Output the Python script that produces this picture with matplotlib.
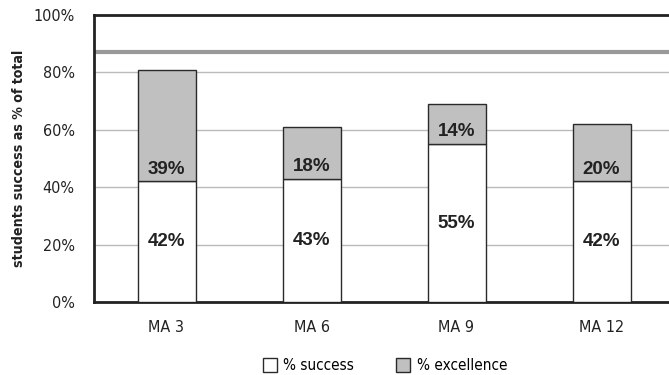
import matplotlib
matplotlib.use("Agg")
import matplotlib.pyplot as plt
from matplotlib import font_manager
from matplotlib.lines import Line2D
from matplotlib.ticker import FuncFormatter
import numpy as np

# data
categories = ["MA 3", "MA 6", "MA 9", "MA 12"]
success = [42, 43, 55, 42]
excellence = [39, 18, 14, 20]
target_line = 87


# pick a narrow sans for axis text, falling back to condensed DejaVu
def narrow_font(weight="normal"):
    try:
        font_manager.findfont(font_manager.FontProperties(family="Liberation Sans Narrow"),
                              fallback_to_default=False)
        return font_manager.FontProperties(family="Liberation Sans Narrow", weight=weight)
    except Exception:
        return font_manager.FontProperties(family="DejaVu Sans", stretch="condensed",
                                           weight=weight)


tick_fp = narrow_font()
tick_fp.set_size(11.5)
ylab_fp = narrow_font("bold")
ylab_fp.set_size(10.2)
leg_fp = narrow_font()
leg_fp.set_size(11)

fig = plt.figure(figsize=(6.69, 3.75), dpi=100)
ax = fig.add_axes([94 / 669, 73 / 375, 580 / 669, 287 / 375])

x = np.arange(len(categories))
w = 0.40
edge = "#2a2a2a"

ax.bar(x, success, w, color="white", edgecolor=edge, linewidth=1.0, zorder=3)
ax.bar(x, excellence, w, bottom=success, color="#c0c0c0", edgecolor=edge,
       linewidth=1.0, zorder=3)

# value labels
for xi, s, e in zip(x, success, excellence):
    ax.text(xi, s / 2, f"{s}%", ha="center", va="center", fontsize=13.5,
            fontweight="bold", family="Liberation Sans", color="#222222", zorder=4)
    ax.text(xi, s + 4.3, f"{e}%", ha="center", va="center", fontsize=13.5,
            fontweight="bold", family="Liberation Sans", color="#222222", zorder=4)

# horizontal reference line
ax.axhline(target_line, color="#999999", linewidth=3, zorder=2)

ax.set_ylim(0, 100)
ax.set_xlim(-0.5, len(categories) - 0.5)
ax.set_yticks(range(0, 101, 20))
ax.yaxis.set_major_formatter(FuncFormatter(lambda v, p: f"{int(v)}%"))
ax.set_xticks(x)
ax.set_xticklabels(categories)
ax.tick_params(axis="both", length=0, colors="#222222")
ax.tick_params(axis="y", pad=14)
ax.tick_params(axis="x", pad=13)
for lab in ax.get_xticklabels() + ax.get_yticklabels():
    lab.set_fontproperties(tick_fp)

ax.yaxis.grid(True, color="#bbbbbb", linewidth=1.0, zorder=0)
ax.set_axisbelow(True)

for side in ["left", "top", "bottom"]:
    ax.spines[side].set_color("#222222")
    ax.spines[side].set_linewidth(2)
ax.spines["right"].set_visible(False)

ax.set_ylabel("students success as % of total", fontproperties=ylab_fp,
              color="#222222", labelpad=5)

handles = [
    Line2D([], [], marker="s", linestyle="none", markersize=9.5,
           markerfacecolor="white", markeredgecolor=edge, label="% success"),
    Line2D([], [], marker="s", linestyle="none", markersize=9.5,
           markerfacecolor="#c0c0c0", markeredgecolor=edge, label="% excellence"),
]
fig.legend(handles=handles, loc="center", bbox_to_anchor=(0.575, 0.024), ncol=2,
           frameon=False, prop=leg_fp, handlelength=1.0, handletextpad=0.4,
           columnspacing=2.7)

fig.savefig("out.png", dpi=100)
